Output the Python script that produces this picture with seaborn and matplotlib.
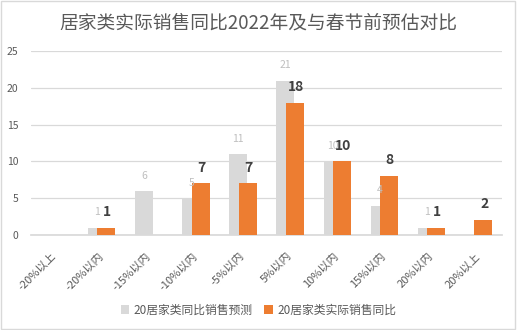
import numpy as np
import pandas as pd
import matplotlib
matplotlib.use("Agg")
import matplotlib.pyplot as plt
import seaborn as sns
from matplotlib.patches import Rectangle, Patch

categories = ["-20%以上", "-20%以内", "-15%以内", "-10%以内", "-5%以内",
              "5%以内", "10%以内", "15%以内", "20%以内", "20%以上"]
forecast = [0, 1, 6, 5, 11, 21, 10, 4, 1, 0]
actual = [0, 1, 0, 7, 7, 18, 10, 8, 1, 2]
series_names = ["20居家类同比销售预测", "20居家类实际销售同比"]
yticks = [0, 5, 10, 15, 20, 25]
title = "居家类实际销售同比2022年及与春节前预估对比"

sns.set_theme(style="white")
plt.rcParams['font.family'] = ['Noto Sans CJK SC', 'DejaVu Sans']

GRAY = "#d9d9d9"
ORANGE = "#ed7d31"
TXT = "#595959"

fig = plt.figure(figsize=(5.17, 3.30), dpi=100)
ax = fig.add_axes([0.060, 0.288, 0.911, 0.557])

pos = np.arange(len(categories))
off = 0.10
w = 0.38
sns.barplot(x=pos - off, y=forecast, native_scale=True, width=w, color=GRAY,
            saturation=1, ax=ax, zorder=2, linewidth=0, edgecolor="none")
sns.barplot(x=pos + off, y=actual, native_scale=True, width=w, color=ORANGE,
            saturation=1, ax=ax, zorder=3, linewidth=0, edgecolor="none")

for i, (f, a) in enumerate(zip(forecast, actual)):
    if f:
        ax.text(i - off, f + 1.4, str(f), ha="center", va="bottom",
                fontsize=7.5, color="#bfbfbf", zorder=4)
    if a:
        ax.text(i + off + 0.02, a + 1.2, str(a), ha="center", va="bottom",
                fontsize=10, fontweight="bold", color="#404040", zorder=5)

ax.set_xlim(-0.5, len(categories) - 0.5)
ax.set_ylim(0, 25)
ax.set_yticks(yticks)
ax.set_yticklabels([str(t) for t in yticks], fontsize=7.5, color=TXT)
ax.yaxis.grid(True, color="#d9d9d9", linewidth=0.9, zorder=0)
ax.set_axisbelow(True)
ax.tick_params(axis="y", length=0, pad=9)
ax.set_xticks(pos)
ax.set_xticklabels(categories, rotation=45, ha="right", va="center",
                   rotation_mode="anchor", fontsize=8, color=TXT)
ax.tick_params(axis="x", length=0, pad=14)
for s in ["left", "right", "top"]:
    ax.spines[s].set_visible(False)
ax.spines["bottom"].set_color("#d9d9d9")
ax.set_xlabel("")
ax.set_ylabel("")

fig.text(0.5, 0.93, title, ha="center", va="center", fontsize=13.5, color=TXT)

handles = [Patch(facecolor=GRAY, edgecolor="none"), Patch(facecolor=ORANGE, edgecolor="none")]
fig.legend(handles, series_names, loc="center", bbox_to_anchor=(0.5, 0.06), ncol=2,
           frameon=False, fontsize=8.5, handlelength=0.7, handleheight=0.7,
           handletextpad=0.4, columnspacing=1.0, labelcolor=TXT)

fig.patches.append(Rectangle((0.002, 0.003), 0.995, 0.993, transform=fig.transFigure,
                             fill=False, edgecolor="#d9d9d9", linewidth=1))

fig.savefig("out.png", dpi=100)
